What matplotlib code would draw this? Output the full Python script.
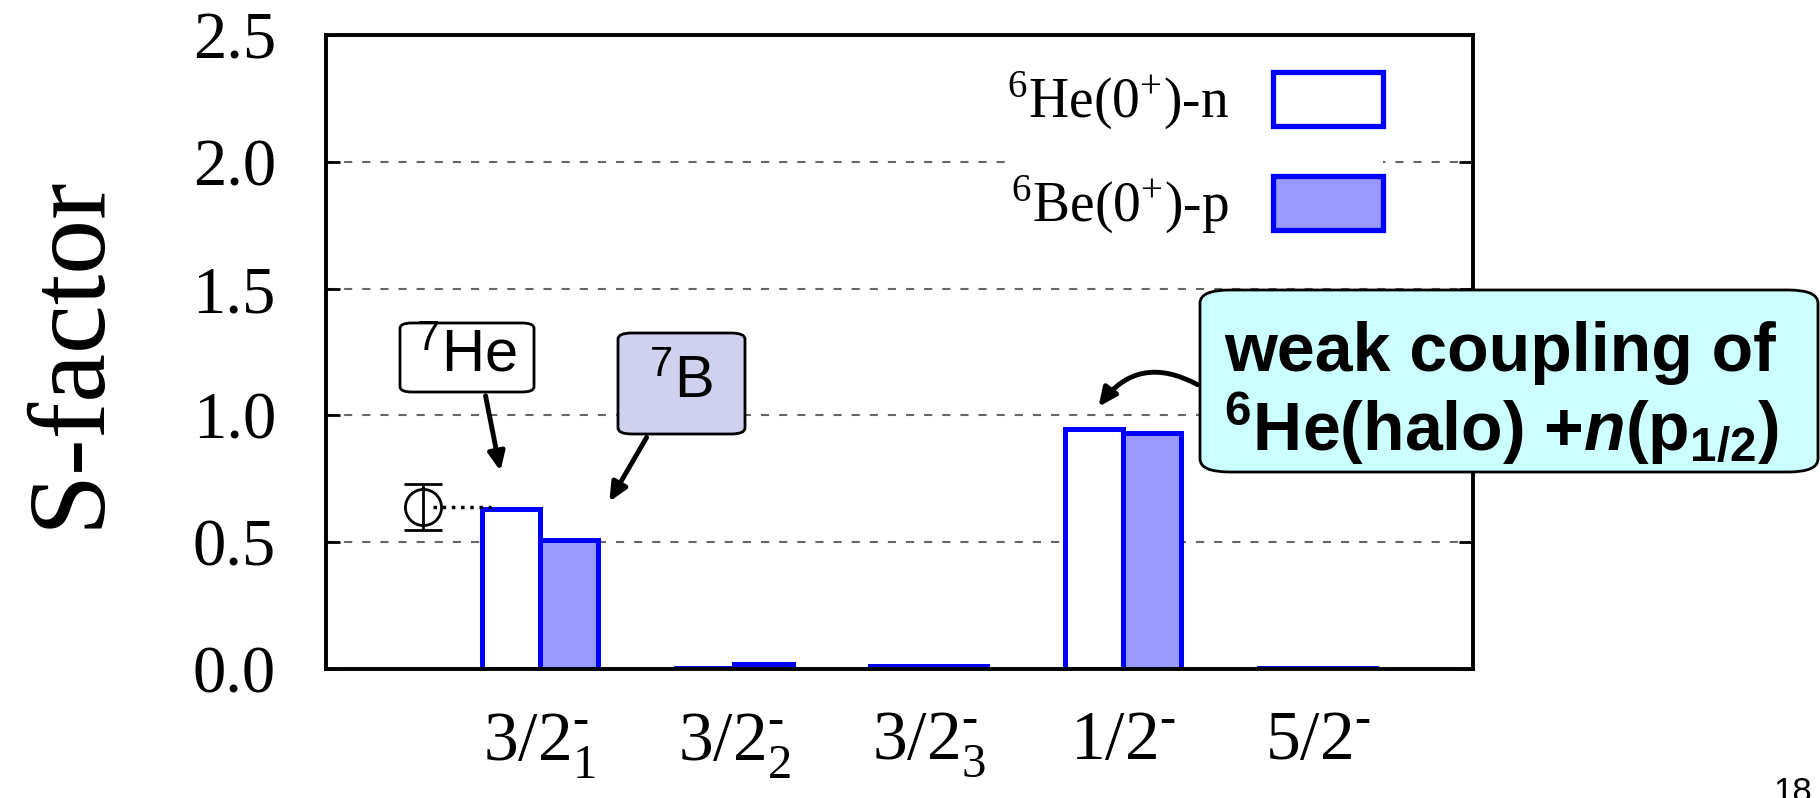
import numpy as np
import matplotlib
matplotlib.use("Agg")
import matplotlib.pyplot as plt
from matplotlib.patches import Patch, FancyBboxPatch

# ── Data ──────────────────────────────────────────────────────────────────────
states = ["3/2$_1^{‐}$", "3/2$_2^{‐}$", "3/2$_3^{‐}$", "1/2$^{‐}$", "5/2$^{‐}$"]
he_n = [0.63, 0.003, 0.01, 0.945, 0.003]   # 6He(0+)-n
be_p = [0.51, 0.018, 0.01, 0.93, 0.003]    # 6Be(0+)-p
exp_x, exp_val, exp_err = -0.6, 0.64, 0.09  # experimental point (7He)
y_ticks = [0.0, 0.5, 1.0, 1.5, 2.0, 2.5]
grid_levels = [0.5, 1.0, 1.5, 2.0]

plt.rcParams["font.family"] = ["Liberation Serif", "DejaVu Serif"]
plt.rcParams["mathtext.fontset"] = "custom"
plt.rcParams["mathtext.rm"] = "Liberation Serif"
plt.rcParams["mathtext.sf"] = "Liberation Sans"
plt.rcParams["mathtext.it"] = "Liberation Sans:italic:bold"
plt.rcParams["mathtext.bf"] = "Liberation Sans:bold"

W, H = 1820, 798
fig = plt.figure(figsize=(W / 100, H / 100), dpi=100)
ax = fig.add_axes([326 / W, 1 - 669 / H, (1473 - 326) / W, (669 - 35) / H])


def fx(px):
    return px / W


def fy(py):
    return 1 - py / H


x = np.arange(len(states))
bw = 0.3
blue = "#0000ff"
fill = "#9999ff"

for lv in grid_levels:
    ax.axhline(lv, color="#666666", lw=1.5, dashes=(3.9, 4.8), zorder=1)

ax.bar(x - bw / 2, he_n, bw, facecolor="white", edgecolor=blue, lw=3.6, zorder=3)
ax.bar(x + bw / 2, be_p, bw, facecolor=fill, edgecolor=blue, lw=3.6, zorder=3)

ax.errorbar(exp_x, exp_val, yerr=exp_err, fmt="o", mfc="none", mec="black",
            ms=26, mew=2, ecolor="black", elinewidth=2, capsize=14, capthick=2,
            zorder=4)
ax.plot([exp_x + 0.05, x[0] - 0.25], [exp_val, exp_val], color="black",
        lw=2.5, ls=":", zorder=5)

ax.set_xlim(-1.1, 4.8)
ax.set_ylim(0, 2.5)
ax.set_xticks(x)
ax.set_xticklabels(states, fontsize=50)
ax.set_yticks(y_ticks)
ax.set_yticklabels([f"{v:.1f}" for v in y_ticks], fontsize=48)
ax.tick_params(axis="y", direction="in", length=10, width=2, left=True, right=True, pad=36)
ax.tick_params(axis="x", length=0, pad=30)
for s in ax.spines.values():
    s.set_linewidth(2.8)
    s.set_zorder(6)

fig.text(fx(71), fy(351), "S-factor", rotation=90, ha="center", va="center", fontsize=79)

handles = [Patch(facecolor="white", edgecolor=blue, lw=3.8),
           Patch(facecolor=fill, edgecolor=blue, lw=3.8)]
leg = ax.legend(handles, ["$^{6}$He(0$^{+}$)-n", "$^{6}$Be(0$^{+}$)-p"],
                loc="upper right", bbox_to_anchor=(fx(1383), fy(70)),
                bbox_transform=fig.transFigure, fontsize=40, markerfirst=False,
                handlelength=1.98, handleheight=1.12, handletextpad=0.8,
                labelspacing=0.75, borderpad=0, borderaxespad=0,
                frameon=True, fancybox=False, framealpha=1)
leg.get_frame().set_edgecolor("none")
leg.set_zorder(7)


# ── Callout boxes ─────────────────────────────────────────────────────────────
def box(x0, y0, x1, y1, fc, r):
    p = FancyBboxPatch((fx(x0), fy(y1)), fx(x1) - fx(x0), fy(y0) - fy(y1),
                       boxstyle=f"round,pad=0,rounding_size={r / W}",
                       transform=fig.transFigure, facecolor=fc,
                       edgecolor="black", lw=2, zorder=8)
    fig.add_artist(p)


arrow = dict(arrowstyle="-|>,head_length=1.1,head_width=0.5", color="black", lw=3.5)

box(400, 323, 534, 392, "white", 12)
fig.text(fx(467), fy(357), "$^{\\mathsf{7}}$He", family="Liberation Sans",
         fontsize=43, ha="center", va="center", zorder=9)
ax.annotate("", xy=(x[0] - 0.2, he_n[0] + 0.14), xycoords="data",
            xytext=(fx(485), fy(393)), textcoords="figure fraction",
            arrowprops=arrow, zorder=9)

box(618, 333, 745, 434, "#d0d0ef", 14)
fig.text(fx(681), fy(383), "$^{\\mathsf{7}}$B", family="Liberation Sans",
         fontsize=43, ha="center", va="center", zorder=9)
ax.annotate("", xy=(x[0] + 0.35, be_p[0] + 0.14), xycoords="data",
            xytext=(fx(648), fy(435)), textcoords="figure fraction",
            arrowprops=arrow, zorder=9)

box(1200, 290, 1818, 472, "#ccffff", 30)
fig.text(fx(1224), fy(394),
         "weak coupling of\n$^{\\mathbf{6}}$He(halo) +$n$(p$_{\\mathbf{1/2}}$)",
         family="Liberation Sans", fontweight="bold", fontsize=49,
         ha="left", va="center", linespacing=1.08, zorder=9)
ax.annotate("", xy=(x[3] - 0.135, he_n[3] + 0.08), xycoords="data",
            xytext=(fx(1200), fy(386)), textcoords="figure fraction",
            arrowprops=dict(arrow, connectionstyle="arc3,rad=0.45"), zorder=9)

fig.text(fx(1793), fy(776), "18", family="Liberation Sans", fontsize=25,
         ha="center", va="top")

fig.savefig("out.png", dpi=100)
